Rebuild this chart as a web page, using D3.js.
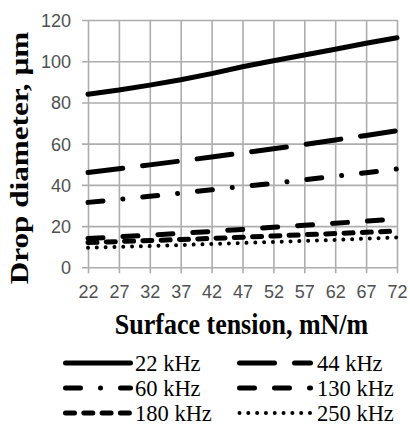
<!DOCTYPE html>
<html>
<head>
<meta charset="utf-8">
<script src="https://cdn.jsdelivr.net/npm/d3@7/dist/d3.min.js"></script>
<style>
  html, body { margin: 0; padding: 0; background: #fff; }
  svg { display: block; }
</style>
</head>
<body>
<svg id="chart" width="410" height="426"></svg>
<script>
// Surface tension (mN/m) along the x axis
const tension = [22, 27, 32, 37, 42, 47, 52, 57, 62, 67, 72];
// Drop diameter (µm) for each ultrasonic frequency
const d22  = [84, 86, 88.4, 91, 94, 97.3, 100.2, 103, 105.8, 108.7, 111.4];
const d44  = [46, 47.8, 49.7, 51.6, 53.5, 55.5, 57.5, 59.6, 61.8, 64, 66.3];
const d60  = [31.5, 33, 34.5, 36, 37.6, 39.2, 40.8, 42.5, 44.2, 45.9, 47.7];
const d130 = [14, 14.8, 15.6, 16.5, 17.4, 18.4, 19.4, 20.4, 21.4, 22.4, 23.5];
const d180 = [12, 12.5, 13, 13.5, 14, 14.6, 15.2, 15.8, 16.4, 17, 17.6];
const d250 = [9.5, 9.9, 10.3, 10.8, 11.3, 11.8, 12.3, 12.8, 13.3, 13.9, 14.5];
const seriesNames = ["22 kHz", "44 kHz", "60 kHz", "130 kHz", "180 kHz", "250 kHz"];
const yTicks = [0, 20, 40, 60, 80, 100, 120];

const series = [
  { name: seriesNames[0], values: d22,  dash: null },
  { name: seriesNames[1], values: d44,  dash: "35,20" },
  { name: seriesNames[2], values: d60,  dash: "15,20,0.01,20" },
  { name: seriesNames[3], values: d130, dash: "15,20" },
  { name: seriesNames[4], values: d180, dash: "9,9.3" },
  { name: seriesNames[5], values: d250, dash: "0.01,8.8", width: 4 }
];

const svg = d3.select("#chart");
const x = d3.scaleLinear().domain([22, 72]).range([88, 397]);
const y = d3.scaleLinear().domain([0, 120]).range([267.3, 20]);

const gridColor = "#adadad";
const tickFont = "'Liberation Sans', Arial, sans-serif";
const serif = "'Liberation Serif', 'Times New Roman', serif";

// Horizontal grid + y axis
const yAxis = d3.axisLeft(y).tickValues(yTicks).tickSize(-(397 - 88)).tickSizeOuter(0).tickPadding(16);
const gy = svg.append("g").attr("transform", "translate(88,0)").call(yAxis);
gy.select(".domain").remove();
gy.selectAll(".tick line").attr("x1", -6).attr("stroke", gridColor).attr("stroke-width", 1.6);
gy.selectAll(".tick text")
  .attr("font-family", tickFont).attr("font-size", 18).attr("fill", "#505050")
  .attr("x", -17).attr("dy", "0.36em");

// Vertical grid + x axis
const xAxis = d3.axisBottom(x).tickValues(tension).tickSize(-(267.3 - 20)).tickSizeOuter(0);
const gx = svg.append("g").attr("transform", "translate(0,267.3)").call(xAxis);
gx.select(".domain").remove();
gx.selectAll(".tick line").attr("y1", 6).attr("stroke", gridColor).attr("stroke-width", 1.6);
gx.selectAll(".tick text")
  .attr("font-family", tickFont).attr("font-size", 18).attr("fill", "#505050")
  .attr("y", 31).attr("dy", 0);

// Series lines
const line = d3.line()
  .x((d, i) => x(tension[i]))
  .y(d => y(d));

svg.append("g").selectAll("path")
  .data(series)
  .join("path")
  .attr("d", d => line(d.values))
  .attr("fill", "none")
  .attr("stroke", "#000")
  .attr("stroke-width", d => d.width || 5)
  .attr("stroke-linecap", "round")
  .attr("stroke-dasharray", d => d.dash);

// Axis titles
svg.append("text")
  .attr("transform", "translate(241.5,334) scale(1,1.15)")
  .attr("text-anchor", "middle")
  .attr("font-family", serif).attr("font-weight", "bold").attr("font-size", 26)
  .attr("fill", "#000")
  .text("Surface tension, mN/m");

svg.append("text")
  .attr("transform", "translate(28,158) scale(1,1.2) rotate(-90)")
  .attr("text-anchor", "middle")
  .attr("font-family", serif).attr("font-weight", "bold").attr("font-size", 26)
  .attr("fill", "#000")
  .text("Drop diameter, µm");

// Legend: two columns, three rows
const legendCols = [{ x0: 63, x1: 133, tx: 135 }, { x0: 237, x1: 313, tx: 317 }];
const legendRows = [363, 388, 413];
const lg = svg.append("g");
series.forEach((s, k) => {
  const col = legendCols[k % 2];
  const ry = legendRows[Math.floor(k / 2)];
  lg.append("line")
    .attr("x1", col.x0 + 2.5).attr("x2", col.x1 - 2.5)
    .attr("y1", ry).attr("y2", ry)
    .attr("stroke", "#000")
    .attr("stroke-width", s.width || 5)
    .attr("stroke-linecap", "round")
    .attr("stroke-dasharray", s.dash);
  lg.append("text")
    .attr("x", col.tx).attr("y", ry + 8)
    .attr("font-family", serif).attr("font-size", 22.5)
    .attr("fill", "#000")
    .text(s.name);
});
</script>
</body>
</html>
